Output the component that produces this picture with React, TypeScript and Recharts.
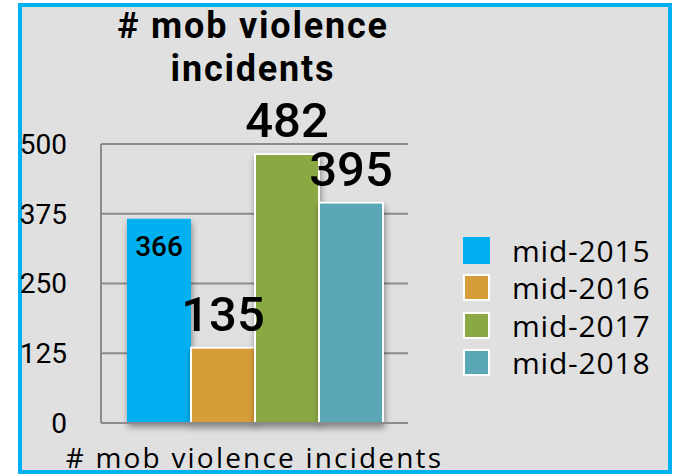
import React from 'react';
import { BarChart, Bar, XAxis, YAxis, CartesianGrid, LabelList } from 'recharts';

const categories = ['# mob violence incidents'];
const mid2015 = [366];
const mid2016 = [135];
const mid2017 = [482];
const mid2018 = [395];
const seriesNames = ['mid-2015', 'mid-2016', 'mid-2017', 'mid-2018'];
const seriesKeys = ['s2015', 's2016', 's2017', 's2018'];
const seriesColors = ['#00b0f0', '#d79d39', '#8aa943', '#5aa7b5'];
const yTicks = [0, 125, 250, 375, 500];
const titleLines = ['# mob violence', 'incidents'];

const data = categories.map((name, i) => ({
  name,
  s2015: mid2015[i],
  s2016: mid2016[i],
  s2017: mid2017[i],
  s2018: mid2018[i],
}));

const GRID = '#8c8c8c';

const ShadowRect = (props: any) => {
  const { x, y, width, height, fill, stroke, strokeWidth } = props;
  return (
    <rect
      x={x}
      y={y}
      width={width}
      height={height}
      fill={fill}
      stroke={stroke}
      strokeWidth={strokeWidth}
      style={{ filter: 'drop-shadow(1px 4px 3px rgba(0,0,0,0.4))' }}
    />
  );
};

export default function App() {
  return (
    <div style={{ position: 'absolute', left: 0, top: 0, width: 673, height: 475, background: '#fff', overflow: 'hidden' }}>
      <div
        style={{
          position: 'absolute',
          left: 18,
          top: 3,
          width: 654,
          height: 471,
          boxSizing: 'border-box',
          border: '4px solid #00b0f0',
          background: '#e0e0e0',
        }}
      />
      <div
        style={{
          position: 'absolute',
          left: 53,
          top: 5,
          width: 400,
          textAlign: 'center',
          fontFamily: 'Roboto',
          fontWeight: 700,
          fontSize: 36,
          letterSpacing: 1.8,
          lineHeight: '43px',
          color: '#000',
        }}
      >
        {titleLines.map((t) => (
          <div key={t}>{t}</div>
        ))}
      </div>
      <div style={{ position: 'absolute', left: 0, top: 0 }}>
        <BarChart
          width={673}
          height={475}
          data={data}
          margin={{ top: 144, right: 265, bottom: 0, left: 0 }}
          barCategoryGap={26}
          barGap={0}
        >
          <CartesianGrid vertical={false} stroke={GRID} strokeWidth={2} />
          <XAxis
            dataKey="name"
            height={52}
            tickLine={false}
            tickSize={0}
            tickMargin={25}
            axisLine={{ stroke: GRID, strokeWidth: 2 }}
            tick={{ fill: '#000', fontSize: 28, fontFamily: 'Open Sans', letterSpacing: 2.2 }}
          />
          <YAxis
            width={101}
            domain={[0, 500]}
            ticks={yTicks}
            interval={0}
            tickLine={false}
            tickSize={0}
            tickMargin={34}
            axisLine={{ stroke: GRID, strokeWidth: 2 }}
            tick={{ fill: '#000', fontSize: 28, fontFamily: 'Roboto' }}
          />
          {seriesKeys.map((k, i) => (
            <Bar
              key={k}
              dataKey={k}
              name={seriesNames[i]}
              fill={seriesColors[i]}
              stroke={i === 0 ? 'none' : '#ffffff'}
              strokeWidth={i === 0 ? 0 : 2}
              shape={<ShadowRect />}
              isAnimationActive={false}
            >
              {i === 0 ? (
                <LabelList dataKey={k} position="insideTop" offset={17} fill="#000" fontSize={28} fontFamily="Roboto" fontWeight={500} />
              ) : (
                <LabelList dataKey={k} position="top" offset={17} fill="#000" fontSize={49} fontFamily="Roboto" fontWeight={500} />
              )}
            </Bar>
          ))}
        </BarChart>
      </div>
      {seriesNames.map((n, i) => (
        <div
          key={n}
          style={{
            position: 'absolute',
            left: 463,
            top: 237 + i * 37.4,
            height: 27,
            display: 'flex',
            alignItems: 'center',
          }}
        >
          <div
            style={{
              width: 27,
              height: 27,
              boxSizing: 'border-box',
              background: seriesColors[i],
              border: i === 0 ? 'none' : '2px solid #fff',
            }}
          />
          <div
            style={{
              marginLeft: 22,
              fontFamily: 'Open Sans',
              fontSize: 30,
              letterSpacing: 0.8,
              lineHeight: '27px',
              color: '#000',
              whiteSpace: 'nowrap',
            }}
          >
            {n}
          </div>
        </div>
      ))}
    </div>
  );
}
